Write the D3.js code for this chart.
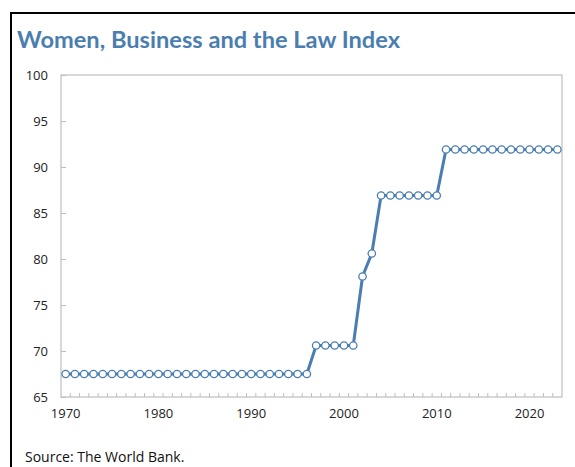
<!DOCTYPE html>
<html><head><meta charset="utf-8">
<script src="https://cdn.jsdelivr.net/npm/d3@7"></script>
<style>body{margin:0;background:#fff;}svg{display:block;}</style>
</head><body>
<svg id="c" width="575" height="467"></svg>
<script>
const title = "Women, Business and the Law Index";
const source = "Source: The World Bank.";
const years = d3.range(1970, 2024);
const values = [
  67.5,67.5,67.5,67.5,67.5,67.5,67.5,67.5,67.5,67.5,
  67.5,67.5,67.5,67.5,67.5,67.5,67.5,67.5,67.5,67.5,
  67.5,67.5,67.5,67.5,67.5,67.5,67.5,
  70.6,70.6,70.6,70.6,70.6,
  78.1,80.6,
  86.9,86.9,86.9,86.9,86.9,86.9,86.9,
  91.9,91.9,91.9,91.9,91.9,91.9,91.9,91.9,91.9,91.9,91.9,91.9,91.9
];
const yTicks = [65,70,75,80,85,90,95,100];
const xLabels = [1970,1980,1990,2000,2010,2020];

const svg = d3.select("#c");
const blue = "#4a7eb0";
const grey = "#bfbfbf";
const L = 61, R = 562, T = 75, B = 397;

// frame
svg.append("path").attr("d", `M11,467 L11,13 L575,13`).attr("fill","none").attr("stroke","#000").attr("stroke-width",2);

svg.append("text").attr("x",17).attr("y",48).text(title)
  .attr("font-family","Lato, 'Open Sans', sans-serif").attr("font-weight","bold")
  .attr("font-size",22).attr("fill",blue).attr("textLength",383).attr("lengthAdjust","spacingAndGlyphs");

const x = d3.scaleBand().domain(years).range([L, R]);
const y = d3.scaleLinear().domain([65,100]).range([B, T]);

// plot border
svg.append("rect").attr("x",L).attr("y",T).attr("width",R-L).attr("height",B-T)
  .attr("fill","none").attr("stroke",grey).attr("stroke-width",1.2);

// y axis
const ya = svg.append("g").attr("transform",`translate(${L},0)`)
  .call(d3.axisLeft(y).tickValues(yTicks).tickSize(-5).tickPadding(13).tickFormat(d3.format("d")));
ya.select(".domain").remove();
ya.selectAll("line").attr("stroke",grey);
ya.selectAll("text").attr("font-family","'Open Sans', 'DejaVu Sans', sans-serif").attr("font-size",13).attr("fill","#222");

// x minor ticks at category boundaries
const bounds = years.slice(1).map(d => x(d));
svg.append("g").selectAll("line").data(bounds).join("line")
  .attr("x1",d=>d).attr("x2",d=>d).attr("y1",B).attr("y2",B-4).attr("stroke",grey);

// x labels
const xa = svg.append("g").attr("transform",`translate(0,${B})`)
  .call(d3.axisBottom(x).tickValues(xLabels).tickSize(0).tickPadding(12));
xa.select(".domain").remove();
xa.selectAll("text").attr("font-family","'Open Sans', 'DejaVu Sans', sans-serif").attr("font-size",13).attr("fill","#222");

const data = years.map((yr,i)=>({yr, v: values[i]}));
const cx = d => x(d.yr) + x.bandwidth()/2;
svg.append("path").datum(data)
  .attr("d", d3.line().x(cx).y(d=>y(d.v)))
  .attr("fill","none").attr("stroke",blue).attr("stroke-width",3);
svg.append("g").selectAll("circle").data(data).join("circle")
  .attr("cx",cx).attr("cy",d=>y(d.v)).attr("r",3.7)
  .attr("fill","#fff").attr("stroke",blue).attr("stroke-width",1.3);

svg.append("text").attr("x",25).attr("y",462).text(source)
  .attr("font-family","'Open Sans', 'DejaVu Sans', sans-serif").attr("font-size",14).attr("fill","#111");
</script>
</body></html>
